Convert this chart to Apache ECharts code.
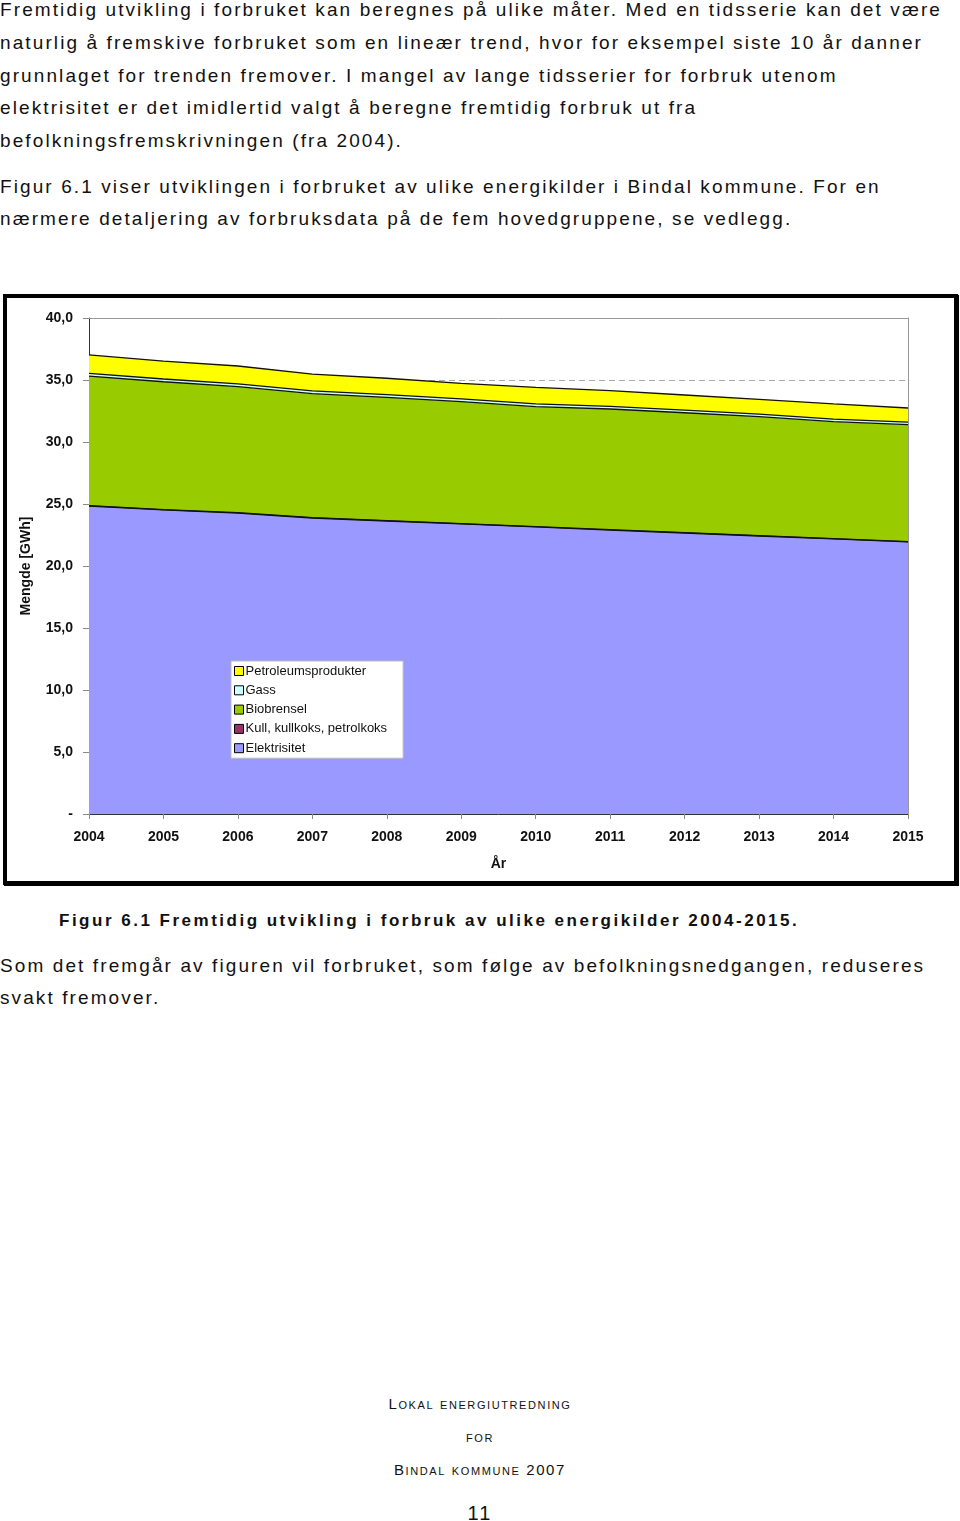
<!DOCTYPE html>
<html>
<head>
<meta charset="utf-8">
<script src="https://cdn.jsdelivr.net/npm/echarts@6/dist/echarts.min.js"></script>
<style>
  html, body { margin: 0; padding: 0; background: #fff; }
  body { width: 960px; height: 1521px; position: relative; overflow: hidden;
         font-family: "Liberation Sans", Arial, sans-serif; color: #111; }
  .ln { position: absolute; left: 0; white-space: nowrap; font-size: 19px;
        letter-spacing: 2.1px; line-height: 22px; }
  .cap { font-weight: bold; letter-spacing: 2.5px; font-size: 17px; }
  .foot { position: absolute; left: 0; width: 960px; text-align: center; font-size: 15px;
          font-variant: small-caps; line-height: 18px; letter-spacing: 1.6px; }
  #frame { position: absolute; left: 3px; top: 294px; width: 955px; height: 591px;
           box-sizing: border-box; border: 4px solid #000; box-shadow: 1px 1px 0 #000; }
  #chart { position: absolute; left: 0; top: 290px; width: 960px; height: 600px; }
</style>
</head>
<body>
<div class="ln" style="top:-1px">Fremtidig utvikling i forbruket kan beregnes på ulike måter. Med en tidsserie kan det være</div>
<div class="ln" style="top:32px">naturlig å fremskive forbruket som en lineær trend, hvor for eksempel siste 10 år danner</div>
<div class="ln" style="top:65px">grunnlaget for trenden fremover. I mangel av lange tidsserier for forbruk utenom</div>
<div class="ln" style="top:97px">elektrisitet er det imidlertid valgt å beregne fremtidig forbruk ut fra</div>
<div class="ln" style="top:130px">befolkningsfremskrivningen (fra 2004).</div>
<div class="ln" style="top:176px">Figur 6.1 viser utviklingen i forbruket av ulike energikilder i Bindal kommune. For en</div>
<div class="ln" style="top:208px">nærmere detaljering av forbruksdata på de fem hovedgruppene, se vedlegg.</div>

<div id="frame"></div>
<div id="chart"></div>

<div class="ln cap" style="top:910px; left:59px">Figur 6.1 Fremtidig utvikling i forbruk av ulike energikilder 2004-2015.</div>
<div class="ln" style="top:955px">Som det fremgår av figuren vil forbruket, som følge av befolkningsnedgangen, reduseres</div>
<div class="ln" style="top:987px">svakt fremover.</div>

<div class="foot" style="top:1395px">Lokal energiutredning</div>
<div class="foot" style="top:1428px">for</div>
<div class="foot" style="top:1461px">Bindal kommune 2007</div>
<div class="foot" style="top:1502px; font-size:20px; font-variant:normal; line-height:22px; letter-spacing:2px">11</div>

<script>
const years = ['2004','2005','2006','2007','2008','2009','2010','2011','2012','2013','2014','2015'];
const elektrisitet = [24.84, 24.52, 24.27, 23.87, 23.63, 23.39, 23.15, 22.90, 22.66, 22.42, 22.18, 21.94];
const kull = [0.03, 0.03, 0.03, 0.03, 0.03, 0.03, 0.03, 0.03, 0.03, 0.03, 0.03, 0.03];
const biobrensel = [10.45, 10.31, 10.16, 10.0, 9.94, 9.83, 9.67, 9.73, 9.67, 9.59, 9.43, 9.43];
const gass = [0.22, 0.22, 0.22, 0.22, 0.22, 0.22, 0.22, 0.22, 0.21, 0.21, 0.21, 0.21];
const petroleum = [1.48, 1.45, 1.45, 1.36, 1.32, 1.26, 1.34, 1.26, 1.22, 1.19, 1.22, 1.13];

const legendOrder = ['Petroleumsprodukter', 'Gass', 'Biobrensel', 'Kull, kullkoks, petrolkoks', 'Elektrisitet'];

const chart = echarts.init(document.getElementById('chart'));

const layer = (name, data, color) => ({
  name, type: 'line', stack: 'total', data,
  symbol: 'none', color,
  lineStyle: { color: '#111', width: 1.3 },
  areaStyle: { color, opacity: 1 },
  itemStyle: { color }
});

const font = 'Liberation Sans, Arial, sans-serif';
const bold = { fontFamily: font, fontWeight: 'bold', fontSize: 14, color: '#111' };

chart.setOption({
  animation: false,
  grid: { left: 89, right: 52, top: 28, bottom: 76 },
  legend: {
    data: legendOrder,
    orient: 'vertical', left: 231, top: 371,
    backgroundColor: '#fff', borderColor: '#bbb', borderWidth: 1,
    padding: [3, 16, 3, 3],
    icon: 'rect', itemWidth: 9, itemHeight: 9, itemGap: 5.3,
    itemStyle: { borderColor: '#000', borderWidth: 1 },
    textStyle: { fontFamily: font, fontSize: 13, color: '#111', padding: [0, 0, 0, -3], lineHeight: 14 }
  },
  xAxis: [{
    type: 'category', data: years, boundaryGap: false,
    name: 'År', nameLocation: 'middle', nameGap: 43, nameTextStyle: bold,
    axisLine: { lineStyle: { color: '#333' } },
    axisTick: { show: true, length: 5, lineStyle: { color: '#888' } },
    axisLabel: { ...bold, margin: 16 }
  }, {
    type: 'category', data: years, boundaryGap: false, position: 'top', z: 5,
    axisLine: { show: true, onZero: false, lineStyle: { color: '#999' } },
    axisTick: { show: false }, axisLabel: { show: false }
  }],
  yAxis: [{
    type: 'value', min: 0, max: 40, interval: 5,
    name: 'Mengde [GWh]', nameLocation: 'middle', nameGap: 56, nameRotate: 90, nameTextStyle: bold,
    axisLine: { show: true, lineStyle: { color: '#333' } },
    axisTick: { show: true, length: 6, lineStyle: { color: '#888' } },
    axisLabel: { ...bold, margin: 16, formatter: v => v === 0 ? '-' : v.toFixed(1).replace('.', ',') },
    splitLine: { show: true, showMaxLine: false, lineStyle: { color: '#aaa', type: [6, 4] } }
  }, {
    type: 'value', min: 0, max: 40, interval: 5, position: 'right', z: 5,
    axisLine: { show: true, onZero: false, lineStyle: { color: '#999' } },
    axisTick: { show: false }, axisLabel: { show: false }, splitLine: { show: false }
  }],
  series: [
    layer('Elektrisitet', elektrisitet, '#9999FF'),
    layer('Kull, kullkoks, petrolkoks', kull, '#993366'),
    layer('Biobrensel', biobrensel, '#99CC00'),
    layer('Gass', gass, '#CCFFFF'),
    layer('Petroleumsprodukter', petroleum, '#FFFF00')
  ]
});
</script>
</body>
</html>
